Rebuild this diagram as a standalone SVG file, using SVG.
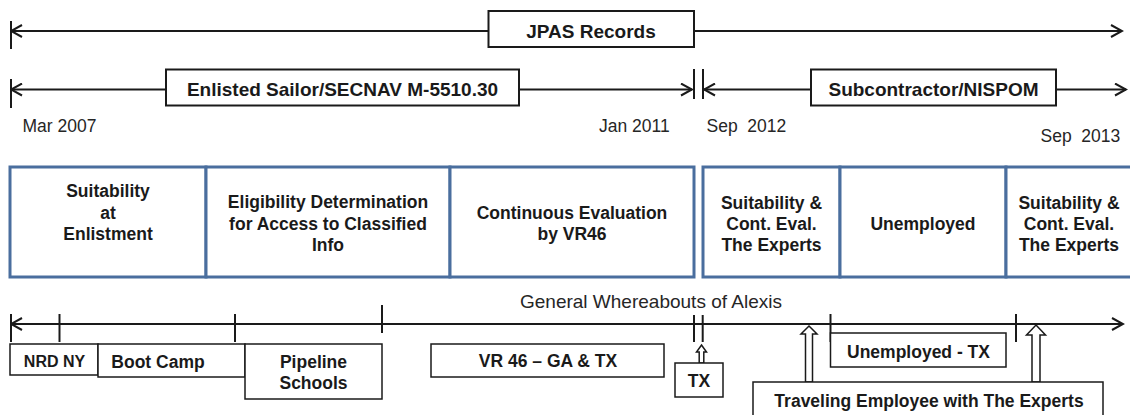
<svg xmlns="http://www.w3.org/2000/svg" width="1130" height="415" viewBox="0 0 1130 415">
<defs>
<marker id="arr" markerUnits="userSpaceOnUse" markerWidth="14" markerHeight="14" viewBox="0 0 14 14" refX="12.5" refY="7" orient="auto-start-reverse">
<path d="M1.5,1 L12.5,7 L1.5,13" fill="none" stroke="#1a1a1a" stroke-width="2"/>
</marker>
</defs>
<style>
.ln{stroke:#1a1a1a;stroke-width:2;fill:none}
.bx{fill:#fff;stroke:#1a1a1a;stroke-width:2}
.bs{fill:#fff;stroke:#1a1a1a;stroke-width:1.5}
.bb{fill:#fff;stroke:#4A6E9E;stroke-width:3}
.ho{fill:#fff;stroke:#1a1a1a;stroke-width:1.5}
.t19{font-family:"Liberation Sans",Arial,sans-serif;font-weight:bold;font-size:19px;fill:#1a1a1a;text-anchor:middle}
.tb{font-family:"Liberation Sans",Arial,sans-serif;font-weight:bold;font-size:17.5px;fill:#1a1a1a;text-anchor:middle}
.tn{font-family:"Liberation Sans",Arial,sans-serif;font-size:17.5px;fill:#262626}
.tg{font-family:"Liberation Sans",Arial,sans-serif;font-size:19px;fill:#262626}
</style>
<rect width="1130" height="415" fill="#fff"/>
<g id="connectors">
<line class="ln" x1="11" y1="31" x2="1122" y2="31" marker-start="url(#arr)" marker-end="url(#arr)"/>
<line class="ln" x1="11" y1="21" x2="11" y2="49"/>
<line class="ln" x1="11" y1="89.5" x2="692" y2="89.5" marker-start="url(#arr)" marker-end="url(#arr)"/>
<line class="ln" x1="11" y1="79" x2="11" y2="108"/>
<line class="ln" x1="694" y1="69" x2="694" y2="99"/>
<line class="ln" x1="703" y1="69" x2="703" y2="99"/>
<line class="ln" x1="704" y1="89.5" x2="1126" y2="89.5" marker-start="url(#arr)" marker-end="url(#arr)"/>
<line class="ln" x1="11" y1="324" x2="1123" y2="324" marker-start="url(#arr)" marker-end="url(#arr)"/>
<line class="ln" x1="11" y1="314" x2="11" y2="342"/>
<line class="ln" x1="59.5" y1="314" x2="59.5" y2="342"/>
<line class="ln" x1="235" y1="314" x2="235" y2="342"/>
<line class="ln" x1="382" y1="305" x2="382" y2="333"/>
<line class="ln" x1="694" y1="315" x2="694" y2="342"/>
<line class="ln" x1="702.7" y1="315" x2="702.7" y2="342"/>
<line class="ln" x1="830.5" y1="314" x2="830.5" y2="342"/>
<line class="ln" x1="1016" y1="314" x2="1016" y2="342"/>
<polygon class="ho" points="701.5,345 706.5,352 703.8,352 703.8,363 699.2,363 699.2,352 696.5,352"/>
<polygon class="ho" points="809,326 817,334 812.5,334 812.5,382 805.5,382 805.5,334 801,334"/>
<polygon class="ho" points="1036,325 1045.5,335 1040,335 1040,382 1032,382 1032,335 1026.5,335"/>
</g>
<g id="jpas"><rect class="bx" x="488.5" y="11" width="205.5" height="36"/><text class="t19" x="591" y="37.5">JPAS Records</text></g>
<g id="enlisted"><rect class="bx" x="166" y="69.5" width="353" height="36"/><text class="t19" x="342.5" y="96">Enlisted Sailor/SECNAV M-5510.30</text></g>
<g id="subcontractor"><rect class="bx" x="811" y="69.5" width="245" height="36"/><text class="t19" x="933.5" y="96">Subcontractor/NISPOM</text></g>
<g id="dates">
<text class="tn" x="22.5" y="132">Mar 2007</text>
<text class="tn" x="599" y="132">Jan 2011</text>
<text class="tn" x="706.5" y="132" xml:space="preserve">Sep  2012</text>
<text class="tn" x="1040.5" y="142" xml:space="preserve">Sep  2013</text>
</g>
<g id="cell-suitability"><rect class="bb" x="10" y="167" width="196" height="110"/><text class="tb" x="108" y="197">Suitability</text><text class="tb" x="108" y="218.5">at</text><text class="tb" x="108" y="240">Enlistment</text></g>
<g id="cell-eligibility"><rect class="bb" x="206" y="167" width="244" height="110"/><text class="tb" x="328" y="208">Eligibility Determination</text><text class="tb" x="328" y="229.5">for Access to Classified</text><text class="tb" x="328" y="251">Info</text></g>
<g id="cell-continuous"><rect class="bb" x="450" y="167" width="244" height="110"/><text class="tb" x="572" y="218.5">Continuous Evaluation</text><text class="tb" x="572" y="240">by VR46</text></g>
<g id="cell-experts1"><rect class="bb" x="703" y="167" width="137" height="110"/><text class="tb" x="771.5" y="208.5">Suitability &amp;</text><text class="tb" x="771.5" y="229.5">Cont. Eval.</text><text class="tb" x="771.5" y="250.5">The Experts</text></g>
<g id="cell-unemployed"><rect class="bb" x="840" y="167" width="166" height="110"/><text class="tb" x="923" y="230">Unemployed</text></g>
<g id="cell-experts2"><rect class="bb" x="1006" y="167" width="127" height="110"/><text class="tb" x="1069" y="208.5">Suitability &amp;</text><text class="tb" x="1069" y="229.5">Cont. Eval.</text><text class="tb" x="1069" y="250.5">The Experts</text></g>
<g id="whereabouts"><text class="tg" x="520" y="308">General Whereabouts of Alexis</text></g>
<g id="nrd"><rect class="bs" x="10" y="344" width="88" height="31"/><text class="tb" style="font-size:16px" x="54.5" y="367">NRD NY</text></g>
<g id="bootcamp"><rect class="bs" x="98" y="344" width="147" height="33"/><text class="tb" x="158" y="368">Boot Camp</text></g>
<g id="pipeline"><rect class="bs" x="245" y="344" width="137" height="55"/><text class="tb" x="313.5" y="368">Pipeline</text><text class="tb" x="313.5" y="389">Schools</text></g>
<g id="vr46"><rect class="bs" x="431" y="344" width="233" height="33"/><text class="tb" x="548" y="367">VR 46 – GA &amp; TX</text></g>
<g id="tx"><rect class="bs" x="675" y="363" width="48" height="34"/><text class="tb" x="699" y="387">TX</text></g>
<g id="unemployed-tx"><rect class="bs" x="830.5" y="333" width="175.5" height="34"/><text class="tb" x="918.5" y="358">Unemployed - TX</text></g>
<g id="traveling"><rect class="bs" x="753" y="382" width="350" height="40"/><text class="tb" x="929" y="407">Traveling Employee with The Experts</text></g>
</svg>
